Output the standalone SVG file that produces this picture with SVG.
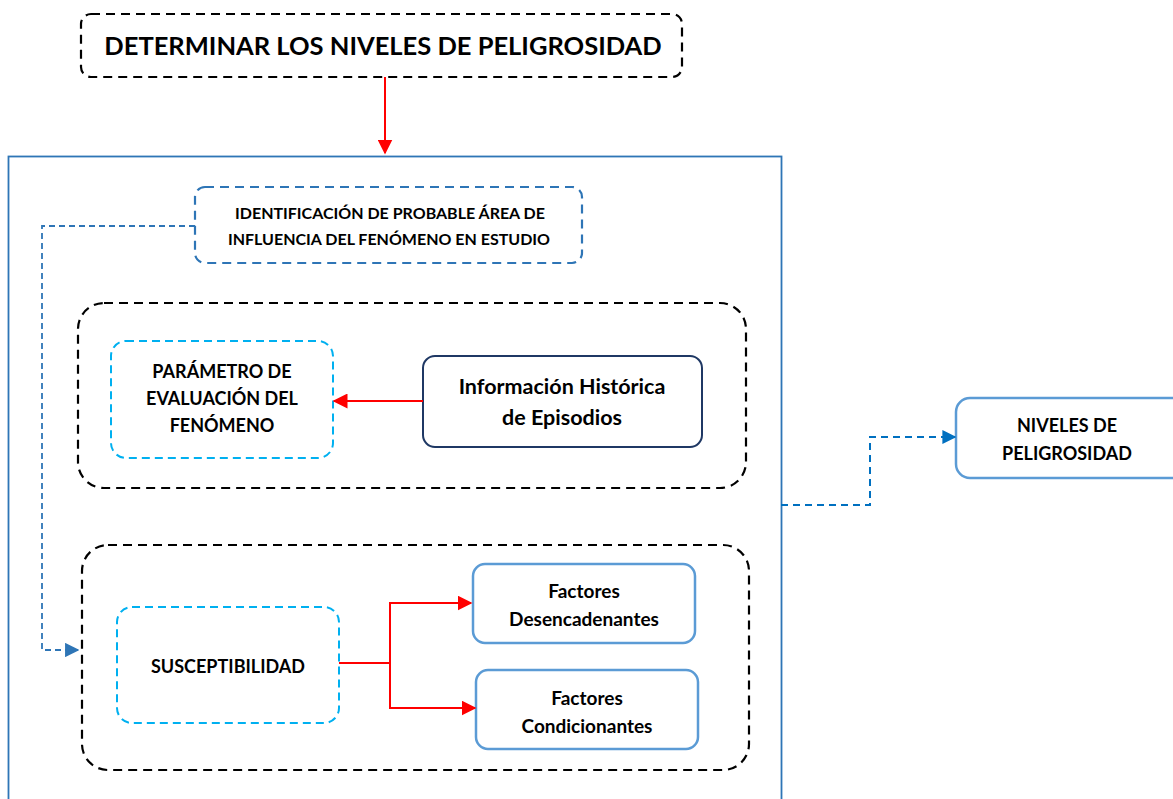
<svg xmlns="http://www.w3.org/2000/svg" width="1173" height="799" viewBox="0 0 1173 799">
<defs>
<style>
text{font-family:"Lato","Liberation Sans",sans-serif;font-weight:bold;fill:#000;text-anchor:middle}
.dblack{fill:#fff;stroke:#000;stroke-width:2.2;stroke-dasharray:9,6}
.dblue{fill:#fff;stroke:#2E75B6;stroke-width:2.2;stroke-dasharray:9,6}
.dcyan{fill:#fff;stroke:#00B0F0;stroke-width:2;stroke-dasharray:8,5}
.sblue{fill:#fff;stroke:#5B9BD5;stroke-width:2.5}
.red{fill:none;stroke:#FF0000;stroke-width:2}
</style>
<marker id="ar" viewBox="0 0 10 10" refX="9" refY="5" markerWidth="7.5" markerHeight="7.5" orient="auto" markerUnits="strokeWidth"><path d="M0,0L10,5L0,10z" fill="#FF0000"/></marker>
<marker id="ab" viewBox="0 0 10 10" refX="9" refY="5" markerWidth="8" markerHeight="8" orient="auto" markerUnits="strokeWidth"><path d="M0,0L10,5L0,10z" fill="#2E75B6"/></marker>
<marker id="ab2" viewBox="0 0 10 10" refX="9" refY="5" markerWidth="7" markerHeight="7" orient="auto" markerUnits="strokeWidth"><path d="M0,0L10,5L0,10z" fill="#0070C0"/></marker>
</defs>
<rect width="1173" height="799" fill="#fff"/>
<g id="container"><rect x="8.5" y="156.5" width="773" height="660" fill="none" stroke="#2E75B6" stroke-width="1.8"/></g>
<g id="top"><rect class="dblack" x="81" y="14" width="601" height="63" rx="10"/><text x="383" y="55" font-size="25.5">DETERMINAR LOS NIVELES DE PELIGROSIDAD</text></g>
<g id="ident"><rect class="dblue" x="195" y="187" width="387" height="76" rx="10"/><text x="390" y="219" font-size="16">IDENTIFICACIÓN DE PROBABLE ÁREA DE</text><text x="389" y="245" font-size="16">INFLUENCIA DEL FENÓMENO EN ESTUDIO</text></g>
<g id="group1"><rect class="dblack" x="78" y="303" width="668" height="185" rx="26"/></g>
<g id="param"><rect class="dcyan" x="111" y="341" width="222" height="117" rx="15"/><text x="222" y="378" font-size="18">PARÁMETRO DE</text><text x="222" y="405" font-size="18">EVALUACIÓN DEL</text><text x="222" y="432" font-size="18">FENÓMENO</text></g>
<g id="historica"><rect x="423" y="356" width="279" height="91" rx="12" fill="#fff" stroke="#1F3864" stroke-width="2"/><text x="562" y="394" font-size="21.5">Información Histórica</text><text x="562" y="425" font-size="21.5">de Episodios</text></g>
<g id="group2"><rect class="dblack" x="82" y="545" width="667" height="225" rx="26"/></g>
<g id="suscept"><rect class="dcyan" x="117" y="607" width="222" height="116" rx="15"/><text x="228" y="673" font-size="18">SUSCEPTIBILIDAD</text></g>
<g id="desenc"><rect class="sblue" x="473" y="564" width="222" height="79" rx="12"/><text x="584" y="598" font-size="19">Factores</text><text x="584" y="626" font-size="19">Desencadenantes</text></g>
<g id="condic"><rect class="sblue" x="476" y="670" width="222" height="79" rx="12"/><text x="587" y="705" font-size="19">Factores</text><text x="587" y="733" font-size="19">Condicionantes</text></g>
<g id="niveles"><rect class="sblue" x="956" y="398" width="230" height="80" rx="14"/><text x="1067" y="432" font-size="18">NIVELES DE</text><text x="1067" y="460" font-size="18">PELIGROSIDAD</text></g>
<g id="connectors">
<path class="red" d="M385,77V153" marker-end="url(#ar)"/>
<path class="red" d="M423,401H334" marker-end="url(#ar)"/>
<path class="red" d="M339,663H390V603H471" marker-end="url(#ar)"/>
<path class="red" d="M390,663V708H475" marker-end="url(#ar)"/>
<path d="M195,226H42V650H78" fill="none" stroke="#2E75B6" stroke-width="1.8" stroke-dasharray="6,4" marker-end="url(#ab)"/>
<path d="M781,505H870V437H955" fill="none" stroke="#0070C0" stroke-width="2" stroke-dasharray="7,5" marker-end="url(#ab2)"/>
</g>
</svg>
